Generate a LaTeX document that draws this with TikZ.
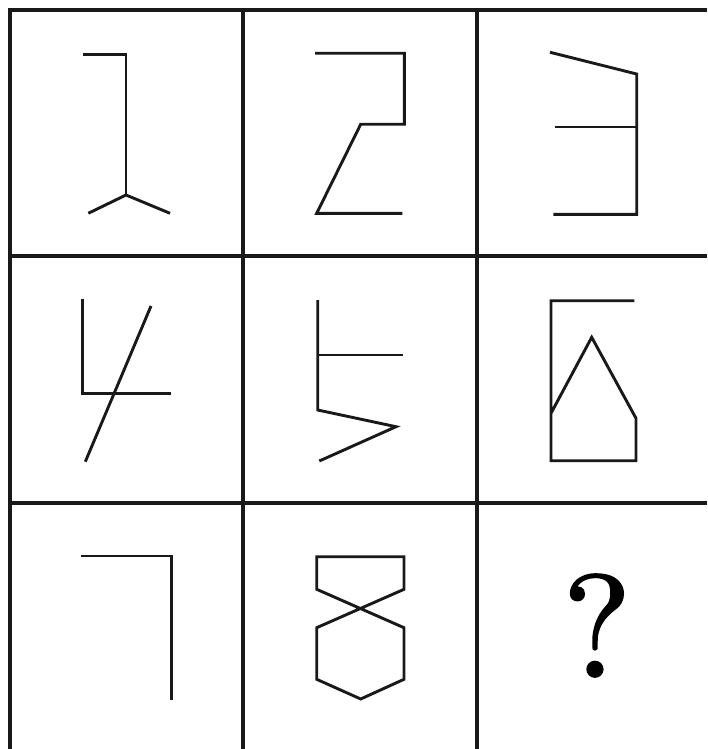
\documentclass[tikz,border=0pt]{standalone}
\usepackage{fontspec}
\newfontfamily\qfont{lmroman10-regular.otf}[FakeBold=1.2]
\begin{document}
\begin{tikzpicture}[x=1pt,y=-1pt,
  gridline/.style={line width=3.2pt,black!90},
  figline/.style={line width=2.9pt,black!90,line join=miter}]
\useasboundingbox (0,0) rectangle (707,749);
% grid
\draw[gridline] (10,749) -- (10,10) -- (707,10);
\draw[gridline] (243,10) -- (243,749);
\draw[gridline] (477,10) -- (477,749);
\draw[gridline] (10,256) -- (707,256);
\draw[gridline] (10,503) -- (707,503);
% cell 1
\draw[figline] (83.3,54.3) -- (126,54.3) -- (126,195);
\draw[figline] (88.3,213.3) -- (126,195) -- (170,213.3);
% cell 2
\draw[figline] (315,53.3) -- (404.3,53.3) -- (404.3,124.3) -- (360.7,124.3) -- (316.7,213.3) -- (402.3,213.3);
% cell 3
\draw[figline] (550,52.3) -- (636.7,74) -- (636.7,214.3) -- (553.3,214.3);
\draw[figline] (555,127) -- (636.7,127);
% cell 4
\draw[figline] (82.7,299.3) -- (82.7,393.3) -- (170.7,393.3);
\draw[figline] (151,306) -- (85.3,461.7);
% cell 5
\draw[figline] (317.7,300) -- (317.7,410) -- (396,426.7) -- (319.3,461);
\draw[figline] (317.7,355) -- (403.3,355);
% cell 6
\draw[figline] (634.3,300.7) -- (551,300.7) -- (551,460.7) -- (636,460.7) -- (636,418.3) -- (591.7,337.3) -- (551,413.3);
% cell 7
\draw[figline] (80.7,556) -- (171.7,556) -- (171.7,700);
% cell 8
\draw[figline] (316.7,556.7) -- (404,556.7) -- (404,589.3) -- (316.7,627.7) -- (316.7,679.3) -- (360.7,699) -- (404,679.3) -- (404,627.7) -- (316.7,589.3) -- cycle;
% cell 9
\node[anchor=base,inner sep=0pt,font=\qfont\fontsize{146}{146}\selectfont] (q) at (597,677) {?};
\end{tikzpicture}
\end{document}
